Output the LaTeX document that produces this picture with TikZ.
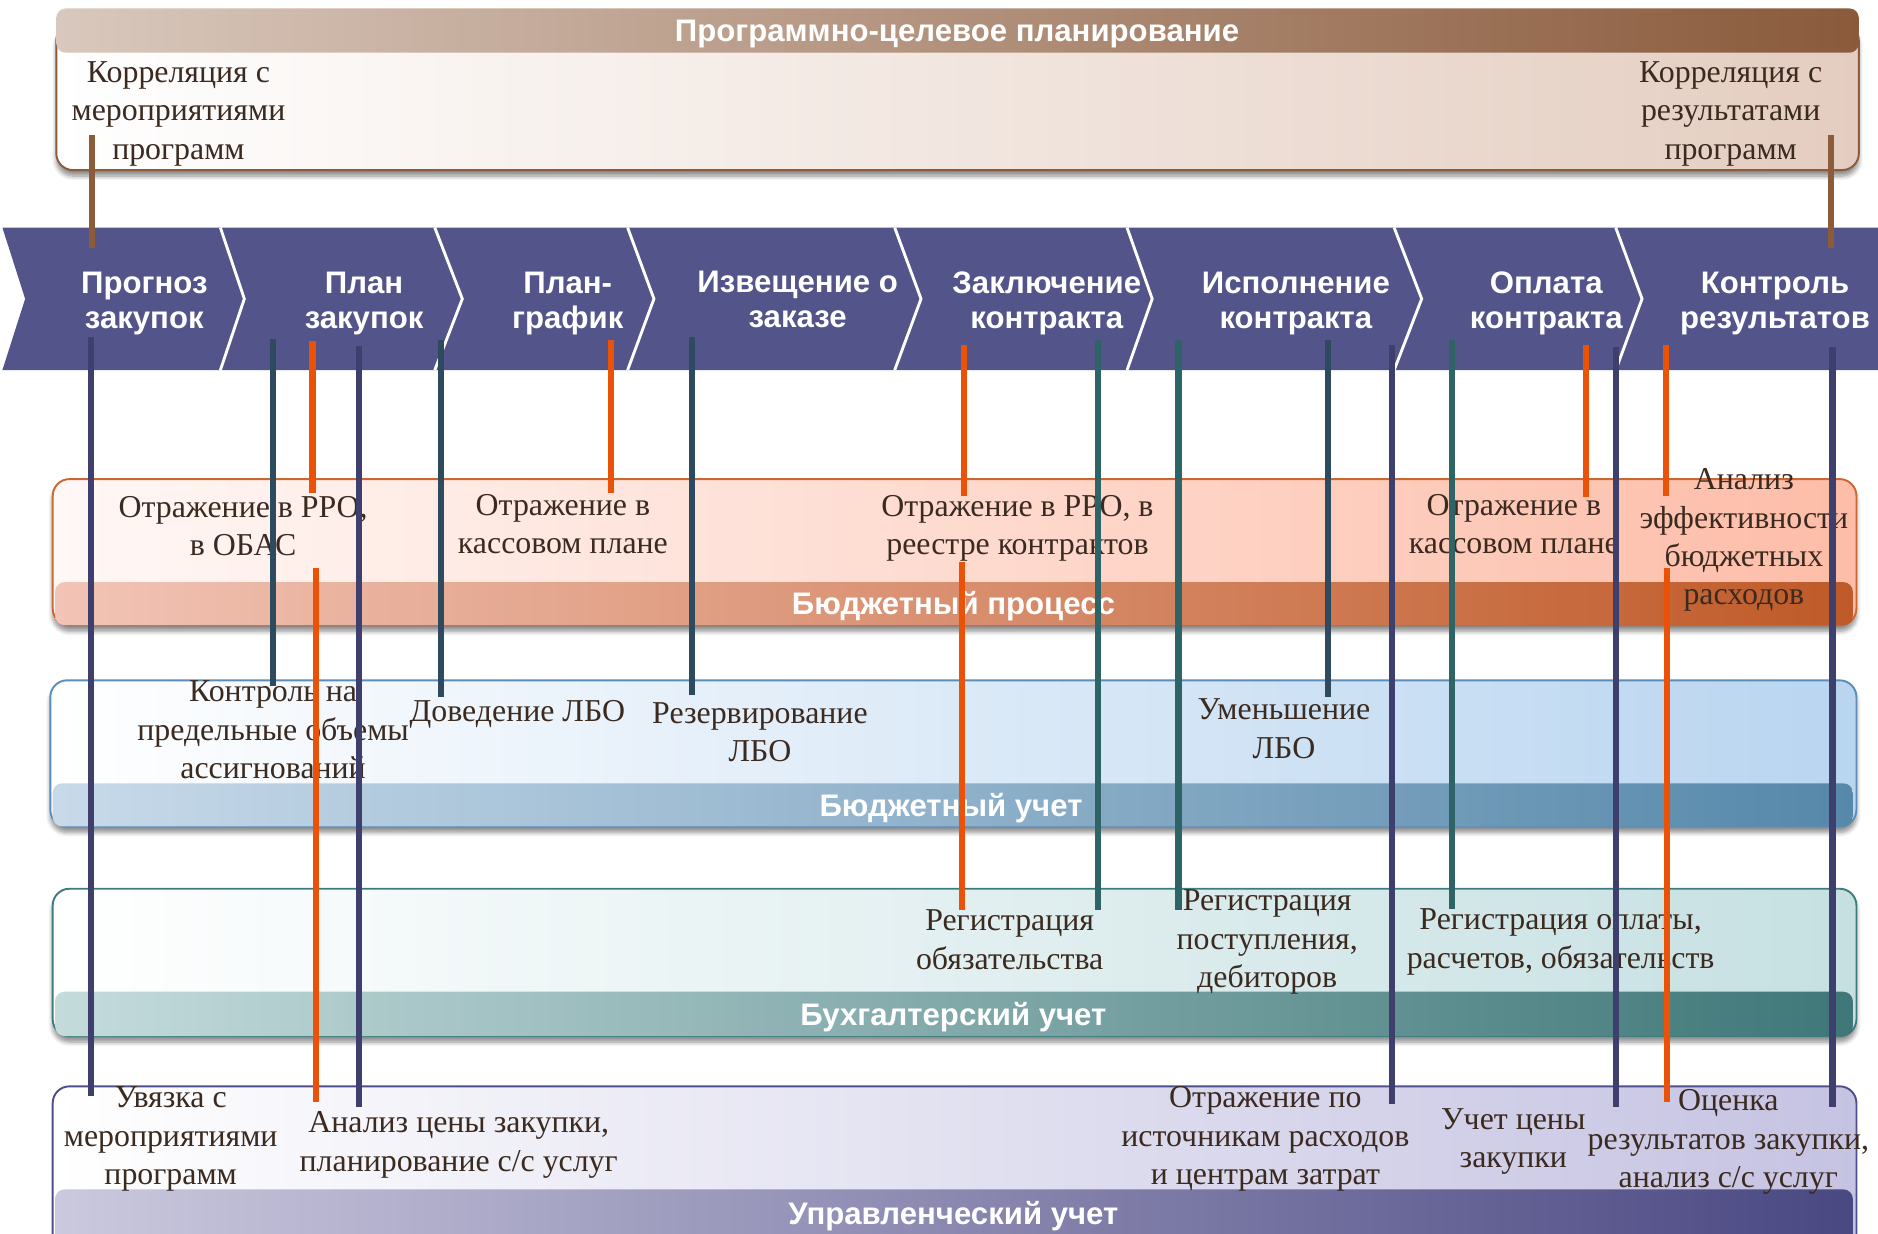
\documentclass[tikz,border=0pt]{standalone}
\usepackage{fontspec}
\setmainfont{Liberation Serif}
\newfontfamily\lsans{Liberation Sans}
\usetikzlibrary{shadows.blur}
\definecolor{chev}{HTML}{53558A}
\definecolor{txtc}{HTML}{3B2A20}
\definecolor{lnavy}{HTML}{3E3F6D}
\definecolor{lslate}{HTML}{2D4A5E}
\definecolor{lteal}{HTML}{2F6466}
\definecolor{lorange}{HTML}{EA5208}
\definecolor{lbrown}{HTML}{8B5B3A}
% band colours
\definecolor{pBody}{HTML}{E4CDC0}
\definecolor{pBarL}{HTML}{D9C8BD}
\definecolor{pBarR}{HTML}{8A5A3B}
\definecolor{bpBord}{HTML}{CC6633}
\definecolor{bpBodyL}{HTML}{FFF8F6}
\definecolor{bpBodyR}{HTML}{FDBDA8}
\definecolor{bpBarL}{HTML}{F2C4B6}
\definecolor{bpBarR}{HTML}{BF5A28}
\definecolor{buBord}{HTML}{5A8DB8}
\definecolor{buBodyR}{HTML}{B9D5F0}
\definecolor{buBarL}{HTML}{C8DAEA}
\definecolor{buBarR}{HTML}{5688AA}
\definecolor{acBord}{HTML}{3D7C7E}
\definecolor{acBodyR}{HTML}{C6E0E2}
\definecolor{acBarL}{HTML}{C4DBDC}
\definecolor{acBarR}{HTML}{3F7778}
\definecolor{mgBord}{HTML}{4E4E8C}
\definecolor{mgBodyR}{HTML}{C5C3E2}
\definecolor{mgBarL}{HTML}{CBC9DE}
\definecolor{mgBarR}{HTML}{4A4882}
\begin{document}
\begin{tikzpicture}[x=0.5pt,y=-0.5pt,
  txt/.style={font=\fontsize{13.3}{16}\selectfont, text=txtc, align=center, inner sep=0pt},
  chevlbl/.style={font=\lsans\bfseries\fontsize{13}{14.6}\selectfont, text=white, align=center, inner sep=0pt},
  bandlbl/.style={font=\lsans\bfseries\fontsize{13}{14.6}\selectfont, text=white, inner sep=0pt},
  conn/.style={line width=2.6pt},
  shad/.style={blur shadow={shadow xshift=0pt, shadow yshift=-2.5pt, shadow blur steps=6, shadow opacity=45}},
  sep/.style={draw=white, line width=1.2pt}
]
\useasboundingbox (0,0) rectangle (1568,1030);

% ---------- top band
\path[shad, draw=lbrown, line width=0.8pt, left color=white, right color=pBody, rounded corners=7pt] (47,20) rectangle (1552,142);
\path[left color=pBarL, right color=pBarR, rounded corners=4pt] (47,7) rectangle (1552,44);
\node[bandlbl] (b0) at (799,28.5) {Программно-целевое планирование};

% ---------- budget process
\path[shad, draw=bpBord, line width=0.8pt, left color=bpBodyL, right color=bpBodyR, rounded corners=7pt] (44,400) rectangle (1550,522);
\path[left color=bpBarL, right color=bpBarR, rounded corners=4pt] (46,486) rectangle (1547,522);
\node[bandlbl] (b1) at (796,506) {Бюджетный процесс};

% ---------- budget accounting
\path[shad, draw=buBord, line width=0.8pt, left color=white, right color=buBodyR, rounded corners=7pt] (42,568) rectangle (1550,690);
\path[left color=buBarL, right color=buBarR, rounded corners=4pt] (44,654) rectangle (1547,690);
\node[bandlbl] (b2) at (794,675) {Бюджетный учет};

% ---------- accounting
\path[shad, draw=acBord, line width=0.8pt, left color=white, right color=acBodyR, rounded corners=7pt] (44,742) rectangle (1550,865);
\path[left color=acBarL, right color=acBarR, rounded corners=4pt] (46,828) rectangle (1547,865);
\node[bandlbl] (b3) at (796,849) {Бухгалтерский учет};

% ---------- managerial
\path[draw=mgBord, line width=0.8pt, left color=white, right color=mgBodyR, rounded corners=7pt] (44,907) rectangle (1550,1060);
\path[left color=mgBarL, right color=mgBarR, rounded corners=4pt] (46,993) rectangle (1547,1060);
\node[bandlbl] (b4) at (796,1015) {Управленческий учет};

% ---------- chevron band
\fill[chev] (2,190) -- (1568,190) -- (1568,309) -- (2,309) -- (21,249.5) -- cycle;
\foreach \t/\p in {184/204, 363/386, 524/546, 747/769, 941/962, 1164/1187, 1349/1371}
  \draw[sep] (\t,190) -- (\p,249.5) -- (\t,309);

\node[chevlbl] (c1) at (120.5,253) {Прогноз\\закупок};
\node[chevlbl] (c2) at (304,253) {План\\закупок};
\node[chevlbl] (c3) at (474,253) {План-\\график};
\node[chevlbl] (c4) at (666,250) {Извещение о\\заказе};
\node[chevlbl] (c5) at (874,253) {Заключение\\контракта};
\node[chevlbl] (c6) at (1082,253) {Исполнение\\контракта};
\node[chevlbl] (c7) at (1291,253) {Оплата\\контракта};
\node[chevlbl] (c8) at (1482,253) {Контроль\\результатов};

% ---------- texts
\node[txt] (k1) at (149,95) {Корреляция с\\мероприятиями\\программ};
\node[txt] (k2) at (1445,95) {Корреляция с\\результатами\\программ};

\node[txt] (t1) at (203,439.5) {Отражение в РРО,\\в ОБАС};
\node[txt] (t2) at (470,437.5) {Отражение в\\кассовом плане};
\node[txt] (t3) at (849.5,441) {Отражение в РРО, в\\реестре контрактов};
\node[txt] (t4) at (1264,437.5) {Отражение в\\кассовом плане};
\node[txt] (t5) at (1456,451) {Анализ\\эффективности\\бюджетных\\расходов};

\node[txt] (t6) at (228,609.5) {Контроль на\\предельные объемы\\ассигнований};
\node[txt] (t7) at (432,596) {Доведение ЛБО};
\node[txt] (t8) at (634.5,611.5) {Резервирование\\ЛБО};
\node[txt] (t9) at (1072,608.5) {Уменьшение\\ЛБО};

\node[txt] (t10) at (843,784.5) {Регистрация\\обязательства};
\node[txt] (t11) at (1058,786.5) {Регистрация\\поступления,\\дебиторов};
\node[txt] (t12) at (1303,786.5) {Регистрация оплаты,\\расчетов, обязательств};

\node[txt] (t13) at (142.5,951) {Увязка с\\мероприятиями\\программ};
\node[txt] (t14) at (383,956) {Анализ цены закупки,\\планирование с/с услуг};
\node[txt] (t15) at (1056.5,951) {Отражение по\\источникам расходов\\и центрам затрат};
\node[txt] (t16) at (1263.5,953) {Учет цены\\закупки};
\node[txt] (t17) at (1443,953.5) {Оценка\\результатов закупки,\\анализ с/с услуг};

% ---------- connectors
\foreach \x/\a/\b/\c [count=\i] in {
  77/113/207/lbrown, 1529/113/207/lbrown,
  76/281/915/lnavy, 300/289/924/lnavy, 1162/288/922/lnavy, 1349/290/924/lnavy, 1530/290/924/lnavy,
  228/283/573/lslate, 368/284/582/lslate, 578/281/580/lslate, 1109/284/582/lslate,
  917/284/760/lteal, 984/284/760/lteal, 1212/284/759/lteal,
  261/285/412/lorange, 264/474/920/lorange, 510/284/412/lorange, 805/288/414/lorange,
  803/469/760/lorange, 1324/288/415/lorange, 1391/288/414/lorange, 1392/474/920/lorange}
{
  \coordinate (s\i) at (\x,\a);
  \coordinate (e\i) at (\x,\b);
  \draw[conn, draw=\c] (s\i) -- (e\i);
}
\end{tikzpicture}
\end{document}
